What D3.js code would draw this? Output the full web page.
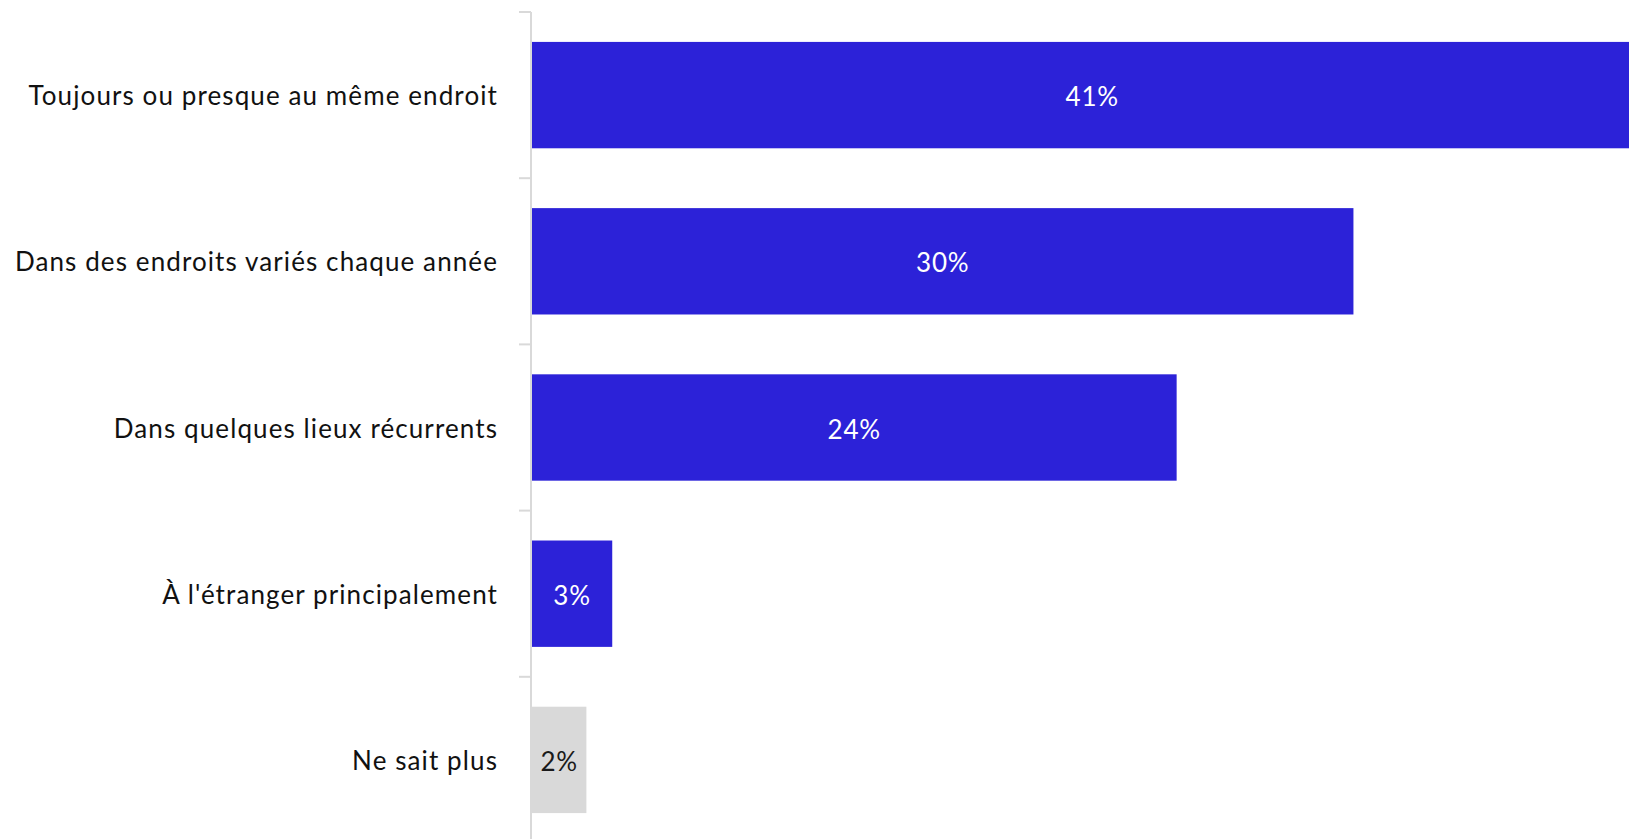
<!DOCTYPE html>
<html>
<head>
<meta charset="utf-8">
<script src="https://cdn.jsdelivr.net/npm/d3@7"></script>
<style>
  html, body { margin: 0; padding: 0; background: #fff; overflow: hidden; }
  svg { display: block; }
</style>
</head>
<body>
<svg id="chart" width="1629" height="839"></svg>
<script>
const categories = [
  "Toujours ou presque au même endroit",
  "Dans des endroits variés chaque année",
  "Dans quelques lieux récurrents",
  "À l'étranger principalement",
  "Ne sait plus"
];
const values = [41.2, 30.2, 23.7, 2.95, 2.0];
const valueLabels = ["41%", "30%", "24%", "3%", "2%"];
const isNeutral = [false, false, false, false, true];

const W = 1629, H = 839;
const svg = d3.select("#chart");
const FONT = "Lato, 'Open Sans', sans-serif";

const axisX = 531;
const x = d3.scaleLinear().domain([0, 40]).range([axisX + 1, axisX + 1 + 1088]);
const y = d3.scaleBand().domain(categories).range([12, 843]).paddingInner(0.36).paddingOuter(0.18);
const yEdges = d3.scaleBand().domain(categories).range([12, 843]).padding(0);

// bars
svg.append("g").selectAll("rect")
  .data(categories)
  .join("rect")
  .attr("x", x(0))
  .attr("y", d => y(d))
  .attr("width", (d, i) => x(values[i]) - x(0))
  .attr("height", y.bandwidth())
  .attr("fill", (d, i) => isNeutral[i] ? "#d9d9d9" : "#2c22d8");

// value labels
svg.append("g").selectAll("text")
  .data(categories)
  .join("text")
  .attr("x", (d, i) => (x(0) + x(values[i])) / 2)
  .attr("y", d => y(d) + y.bandwidth() / 2 + 2)
  .attr("dy", "0.35em")
  .attr("text-anchor", "middle")
  .attr("font-family", FONT)
  .attr("font-size", 26)
  .attr("letter-spacing", "0.8px")
  .attr("fill", (d, i) => isNeutral[i] ? "#1a1a1a" : "#ffffff")
  .text((d, i) => valueLabels[i]);

// axis line
svg.append("line")
  .attr("x1", axisX).attr("x2", axisX)
  .attr("y1", 12).attr("y2", H)
  .attr("stroke", "#d9d9d9").attr("stroke-width", 2);

// ticks at band edges
svg.append("g").selectAll("line")
  .data(categories)
  .join("line")
  .attr("x1", axisX - 12).attr("x2", axisX)
  .attr("y1", d => yEdges(d)).attr("y2", d => yEdges(d))
  .attr("stroke", "#d9d9d9").attr("stroke-width", 2);

// category labels
svg.append("g").selectAll("text")
  .data(categories)
  .join("text")
  .attr("x", 498)
  .attr("y", d => y(d) + y.bandwidth() / 2 + 1)
  .attr("dy", "0.35em")
  .attr("text-anchor", "end")
  .attr("font-family", FONT)
  .attr("font-size", 26)
  .attr("letter-spacing", "1.1px")
  .attr("fill", "#111")
  .text(d => d);
</script>
</body>
</html>
